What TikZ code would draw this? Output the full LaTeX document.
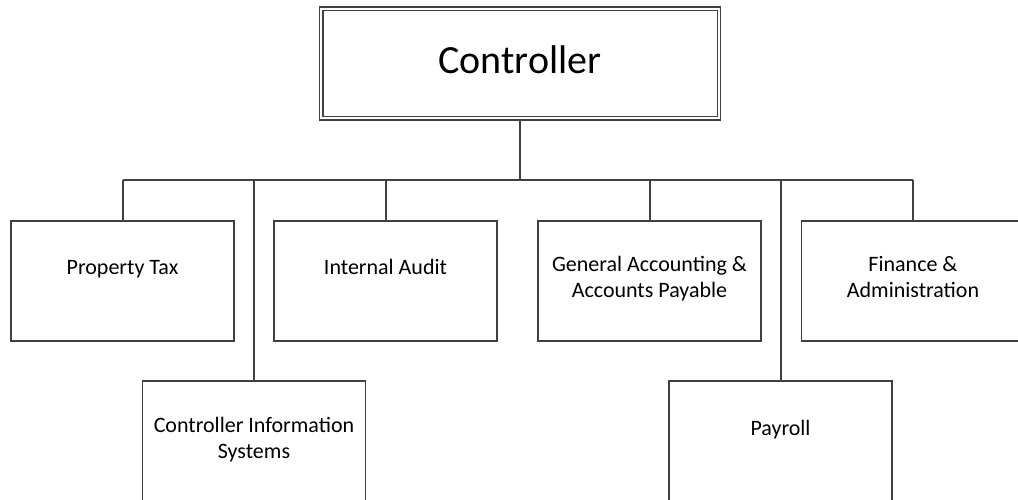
\documentclass[tikz,border=0pt]{standalone}
\usepackage{fontspec}
\setmainfont{Carlito}
\usepackage{tikz}
\usetikzlibrary{calc, positioning}
\definecolor{linegray}{HTML}{404040}

\begin{document}
\begin{tikzpicture}[x=1pt, y=1pt,
    unit/.style={draw=linegray, line width=1.2pt, minimum width=223pt, minimum height=120pt, inner sep=0pt},
    lbl/.style={inner sep=0pt, align=center, anchor=base, font=\fontsize{22}{26}\selectfont},
    link/.style={draw=linegray, line width=2pt}]
    \useasboundingbox (0,0) rectangle (1018,-499);

    % 1. Hộp trên cùng (viền đôi)
    \node[draw=linegray, line width=1.2pt, minimum width=401pt, minimum height=113pt, inner sep=0pt] (ctrl) at (520,-63.5) {};
    \draw[linegray, line width=1.2pt] ([shift={(4pt,-4pt)}]ctrl.north west) rectangle ([shift={(-4pt,4pt)}]ctrl.south east);
    \node[inner sep=0pt, anchor=base, font=\fontsize{40}{48}\selectfont] (ctrl-t) at (520,-73) {Controller};

    % 2. Các hộp hàng 1 và hàng 2
    \node[unit] (tax) at (122.5,-281) {};
    \node[unit] (audit) at (385.5,-281) {};
    \node[unit] (genacc) at (649.5,-281) {};
    \node[unit] (finance) at (913,-281) {};
    \node[unit] (cis) at (254,-441) {};
    \node[unit] (payroll) at (780.5,-441) {};

    % 3. Chữ trong hộp
    \node[lbl] (tax-t) at ([yshift=-54.5pt]tax.north) {Property Tax};
    \node[lbl] (audit-t) at ([yshift=-54.5pt]audit.north) {Internal Audit};
    \node[lbl] (genacc-t) at ([yshift=-77pt]genacc.north) {General Accounting \&\\Accounts Payable};
    \node[lbl] (finance-t) at ([yshift=-77pt]finance.north) {Finance \&\\Administration};
    \node[lbl] (cis-t) at ([yshift=-78pt]cis.north) {Controller Information\\Systems};
    \node[lbl] (payroll-t) at ([yshift=-55pt]payroll.north) {Payroll};

    % 4. Đường nối
    \coordinate (bus) at (520,-180);
    \draw[link] (ctrl.south) -- (ctrl.south |- bus);
    \draw[link] (tax.north |- bus) -- (finance.north |- bus);
    \draw[link] (tax.north) -- (tax.north |- bus);
    \draw[link] (audit.north) -- (audit.north |- bus);
    \draw[link] (genacc.north) -- (genacc.north |- bus);
    \draw[link] (finance.north) -- (finance.north |- bus);
    \draw[link] (cis.north) -- (cis.north |- bus);
    \draw[link] (payroll.north) -- (payroll.north |- bus);
\end{tikzpicture}
\end{document}
